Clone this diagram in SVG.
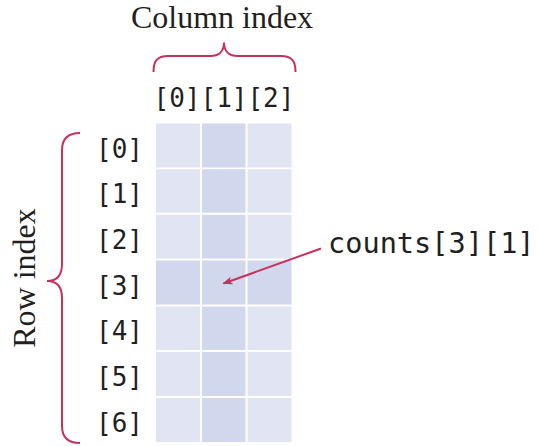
<svg xmlns="http://www.w3.org/2000/svg" width="540" height="446" viewBox="0 0 540 446">
<style>
.serif{font-family:"Liberation Serif","Times New Roman",serif;font-size:32px;fill:#231f20}
.mono{font-family:"DejaVu Sans Mono","Liberation Mono",monospace;font-size:26px;fill:#231f20}
.lt{fill:#e1e5f3}
.dk{fill:#d1d8ed}
.brace{fill:none;stroke:#c8325a;stroke-width:2}
</style>
<defs>
<marker id="ah" viewBox="0 0 10 10" refX="9" refY="5" markerWidth="10" markerHeight="10" markerUnits="userSpaceOnUse" orient="auto">
<path d="M0,1 L10,5 L0,9 L2.5,5 Z" fill="#c8325a"/>
</marker>
</defs>
<rect width="540" height="446" fill="#fff"/>
<g id="grid">
<rect class="lt" x="156" y="123.5" width="44" height="44"/><rect class="dk" x="202" y="123.5" width="43.5" height="44"/><rect class="lt" x="247.5" y="123.5" width="44" height="44"/>
<rect class="lt" x="156" y="169.2" width="44" height="43.5"/><rect class="dk" x="202" y="169.2" width="43.5" height="43.5"/><rect class="lt" x="247.5" y="169.2" width="44" height="43.5"/>
<rect class="lt" x="156" y="214.8" width="44" height="43.8"/><rect class="dk" x="202" y="214.8" width="43.5" height="43.8"/><rect class="lt" x="247.5" y="214.8" width="44" height="43.8"/>
<rect class="dk" x="156" y="260.5" width="44" height="44"/><rect class="dk" x="202" y="260.5" width="43.5" height="44"/><rect class="dk" x="247.5" y="260.5" width="44" height="44"/>
<rect class="lt" x="156" y="306.5" width="44" height="43.5"/><rect class="dk" x="202" y="306.5" width="43.5" height="43.5"/><rect class="lt" x="247.5" y="306.5" width="44" height="43.5"/>
<rect class="lt" x="156" y="352" width="44" height="44"/><rect class="dk" x="202" y="352" width="43.5" height="44"/><rect class="lt" x="247.5" y="352" width="44" height="44"/>
<rect class="lt" x="156" y="398" width="44" height="44"/><rect class="dk" x="202" y="398" width="43.5" height="44"/><rect class="lt" x="247.5" y="398" width="44" height="44"/>
</g>
<g id="column-index">
<text class="serif" x="222" y="28" text-anchor="middle">Column index</text>
<path class="brace" d="M153.5,72 C153.5,61 157,56 168,56 L210,56 C219,56 224,51 224,42.5 C224,51 229,56 238,56 L281,56 C292,56 295.5,61 295.5,72"/>
<text class="mono" x="224" y="107" text-anchor="middle">[0][1][2]</text>
</g>
<g id="row-index">
<text class="serif" x="35" y="278" text-anchor="middle" transform="rotate(-90 35 278)">Row index</text>
<path class="brace" d="M80,133 C68,133 62,138 62,150 L62,264 C62,275 57,281 47,281 C57,281 62,287 62,298 L62,426 C62,438 68,443 80,443"/>
<text class="mono" x="143" y="157.5" text-anchor="end">[0]</text>
<text class="mono" x="143" y="203.2" text-anchor="end">[1]</text>
<text class="mono" x="143" y="248.9" text-anchor="end">[2]</text>
<text class="mono" x="143" y="294.6" text-anchor="end">[3]</text>
<text class="mono" x="143" y="340.3" text-anchor="end">[4]</text>
<text class="mono" x="143" y="386" text-anchor="end">[5]</text>
<text class="mono" x="143" y="431.7" text-anchor="end">[6]</text>
</g>
<g id="label">
<text class="mono" x="328" y="253" style="font-size:28.6px">counts[3][1]</text>
</g>
<g id="connectors">
<line x1="321" y1="248.5" x2="223.5" y2="283.5" stroke="#c8325a" stroke-width="2" marker-end="url(#ah)"/>
</g>
</svg>
